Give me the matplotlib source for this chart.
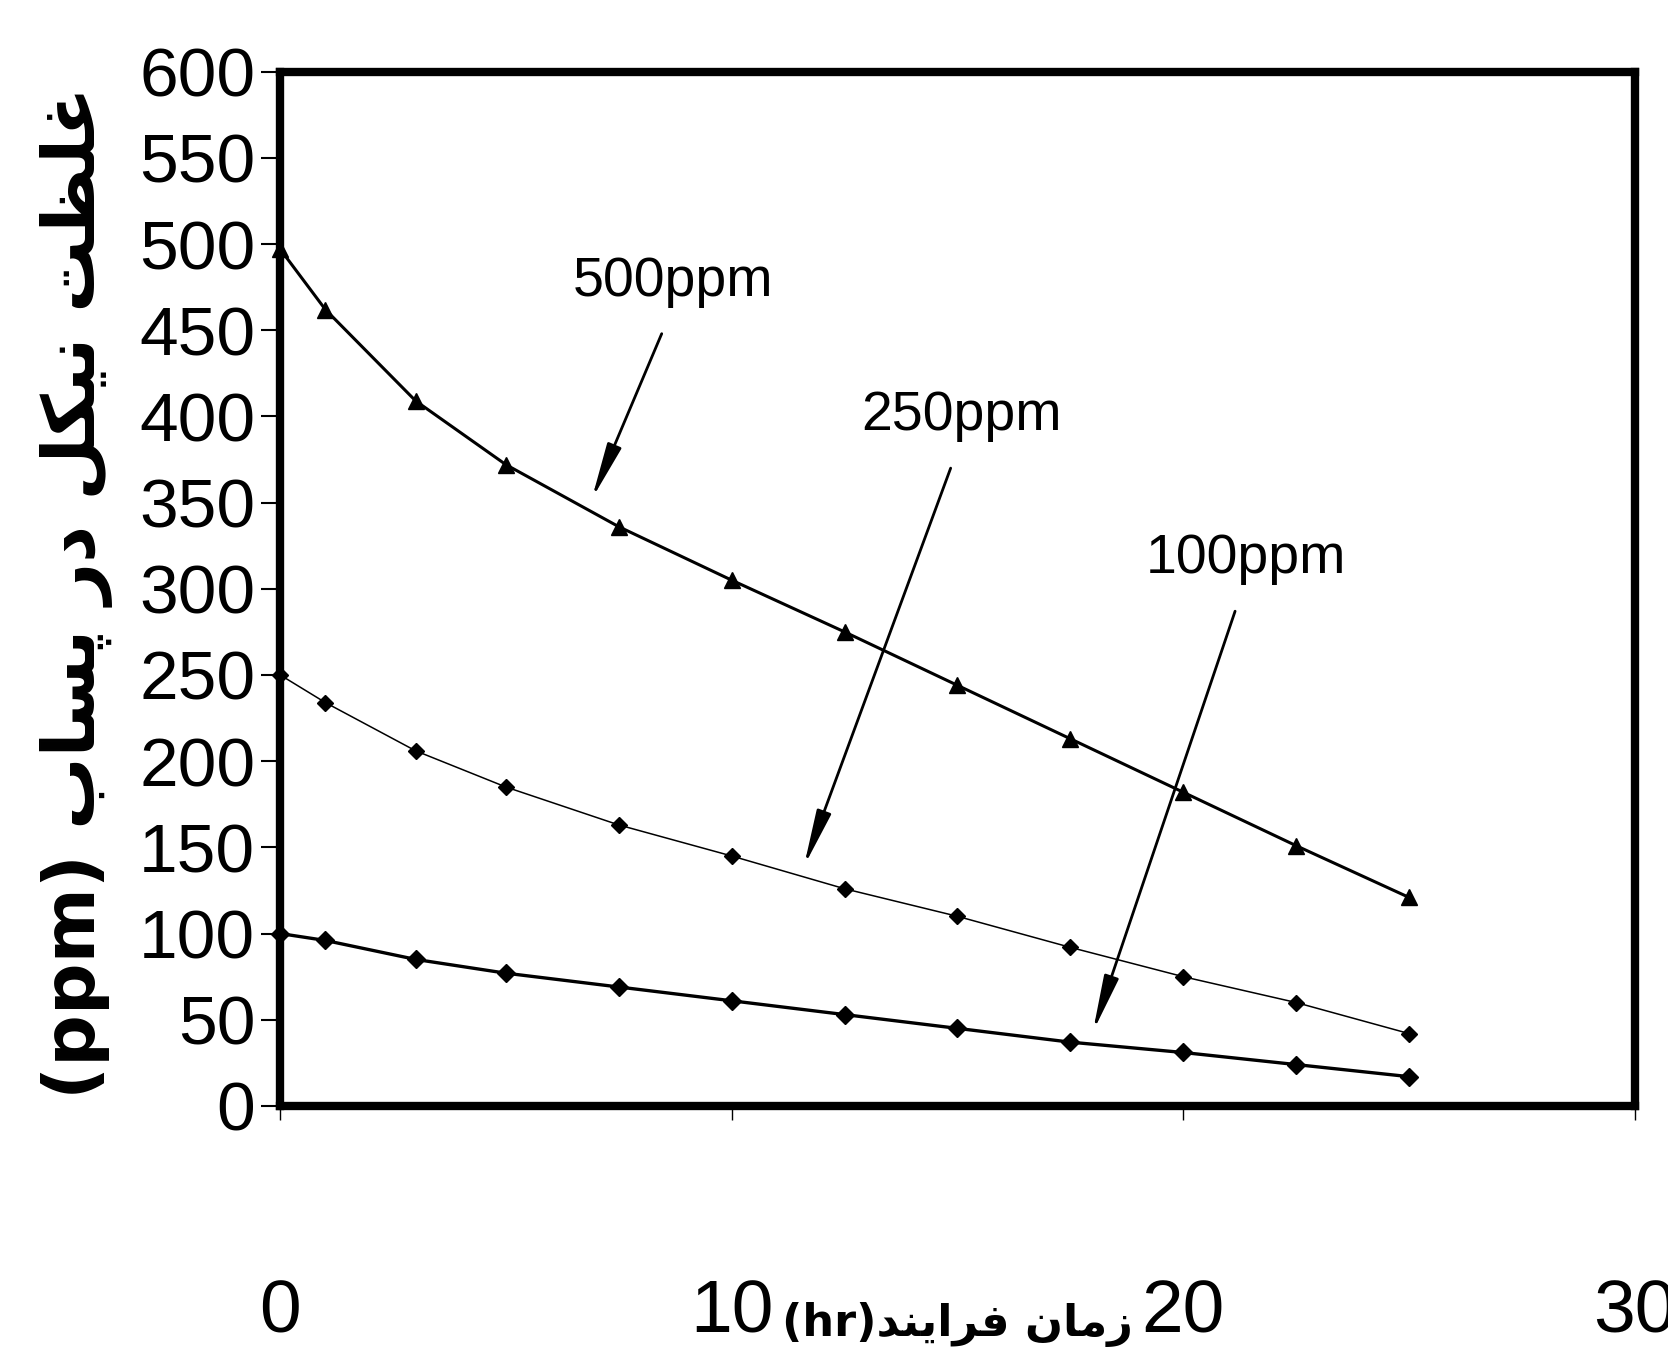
import matplotlib
matplotlib.use("Agg")
import matplotlib.pyplot as plt

# data (time in hr, nickel concentration in ppm)
hours = [0, 1, 3, 5, 7.5, 10, 12.5, 15, 17.5, 20, 22.5, 25]
c500 = [497, 462, 409, 372, 336, 305, 275, 244, 213, 182, 151, 121]
c250 = [250, 234, 206, 185, 163, 145, 126, 110, 92, 75, 60, 42]
c100 = [100, 96, 85, 77, 69, 61, 53, 45, 37, 31, 24, 17]

series_labels = ["500ppm", "250ppm", "100ppm"]
label_pos = [(8.7, 478), (15.1, 400), (21.4, 317)]
arrow_tip = [(6.9, 352), (11.6, 139), (18.0, 43)]

yticks = list(range(0, 601, 50))
xticks = [0, 10, 20, 30]

FONT = ["Liberation Sans Narrow", "Liberation Sans", "DejaVu Sans"]
ARAB = ["DejaVu Sans"]

# Persian labels written in shaped, visual (left-to-right) order
# غلظت نیکل در پساب (ppm)
ylab = ("(ppm) "
        + "\uFE8F\uFE8E\uFEB4\uFB58" + " "
        + "\uFEAD\uFEA9" + " "
        + "\uFEDE\uFEDC\uFEF4\uFEE7" + " "
        + "\uFE96\uFEC8\uFEE0\uFECF")
# زمان فرایند(hr)
xlab = ("(hr)"
        + "\uFEAA\uFEE8\uFEF3\uFE8D\uFEAE\uFED3" + " "
        + "\uFEE5\uFE8E\uFEE3\uFEAF")

fig = plt.figure(figsize=(16.68, 13.52), dpi=100)
ax = fig.add_axes([0.168, 0.182, 0.812, 0.765])

ax.plot(hours, c500, color="black", lw=2.2, marker="^", ms=11, clip_on=False)
ax.plot(hours, c250, color="black", lw=1.1, marker="D", ms=8, clip_on=False)
ax.plot(hours, c100, color="black", lw=2.4, marker="D", ms=9, clip_on=False)

for txt, (lx, ly), (tx, ty) in zip(series_labels, label_pos, arrow_tip):
    ax.text(lx, ly, txt, ha="center", va="center", fontsize=40,
            family=FONT)
    ax.annotate("", xy=(tx, ty), xytext=(lx - 0.25, ly - 30),
                arrowprops=dict(arrowstyle="-|>,head_length=3.4,head_width=0.45",
                                color="black", lw=2, shrinkA=0, shrinkB=0))

ax.set_xlim(0, 30)
ax.set_ylim(0, 600)
ax.set_xticks(xticks)
ax.set_yticks(yticks)
ax.set_yticklabels([str(v) for v in yticks], family=FONT, fontsize=50)
ax.set_xticklabels([str(v) for v in xticks], family=FONT, fontsize=54)
ax.tick_params(axis="y", direction="out", length=14, width=1.5, pad=4)
ax.tick_params(axis="x", direction="out", length=10, width=1, pad=114)

for s in ax.spines.values():
    s.set_linewidth(6)
    s.set_color("black")

ax.text(15.0, -127, xlab, ha="center", va="center", fontsize=32,
        family=ARAB, fontweight="bold")
fig.text(0.046, 0.562, ylab, rotation=90, ha="center", va="center",
         fontsize=52, family=ARAB, fontweight="bold")

fig.savefig("out.png", dpi=100)
